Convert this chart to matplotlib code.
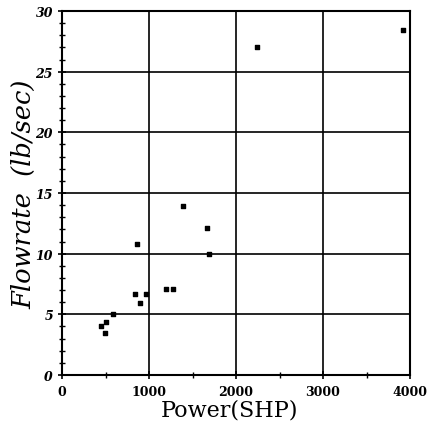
import matplotlib
matplotlib.use('Agg')
import matplotlib.pyplot as plt
from matplotlib.ticker import MultipleLocator

# data
power = [448, 494, 503, 586, 835, 858, 893, 969, 1195, 1280, 1391, 1663, 1690, 2245, 3923]
flowrate = [4.05, 3.5, 4.4, 5.0, 6.7, 10.8, 5.9, 6.7, 7.1, 7.1, 13.9, 12.1, 10.0, 27.05, 28.4]

x_ticks = [0, 1000, 2000, 3000, 4000]
y_ticks = [0, 5, 10, 15, 20, 25, 30]

fig = plt.figure(figsize=(4.28, 4.27), dpi=100)
ax = fig.add_axes([0.145, 0.1194, 0.813, 0.8525])

ax.scatter(power, flowrate, marker='s', s=12, color='black', zorder=3)

ax.set_xlim(0, 4000)
ax.set_ylim(0, 30)
ax.set_xticks(x_ticks)
ax.set_yticks(y_ticks)
ax.xaxis.set_minor_locator(MultipleLocator(500))
ax.yaxis.set_minor_locator(MultipleLocator(1))
ax.grid(True, which='major', color='black', linewidth=1.2)
ax.tick_params(which='both', direction='inout', top=False, right=False)
ax.tick_params(which='major', length=6, width=1.2)
ax.tick_params(which='minor', length=4, width=1)
ax.tick_params(axis='x', pad=4)
for s in ax.spines.values():
    s.set_linewidth(1.5)

ax.set_xticklabels([str(v) for v in x_ticks], fontfamily='DejaVu Serif',
                   fontweight='bold', fontsize=9)
ax.set_yticklabels([str(v) for v in y_ticks], fontfamily='DejaVu Serif',
                   fontweight='bold', fontstyle='italic', fontsize=9)

ax.set_xlabel('Power(SHP)', fontfamily='DejaVu Serif', fontsize=16)
ax.xaxis.set_label_coords(0.48, -0.064)
ax.set_ylabel('Flowrate  (lb/sec)', fontfamily='DejaVu Serif', fontstyle='italic',
              fontsize=18.5)
ax.yaxis.set_label_coords(-0.075, 0.5)

fig.savefig('out.png', dpi=100)
